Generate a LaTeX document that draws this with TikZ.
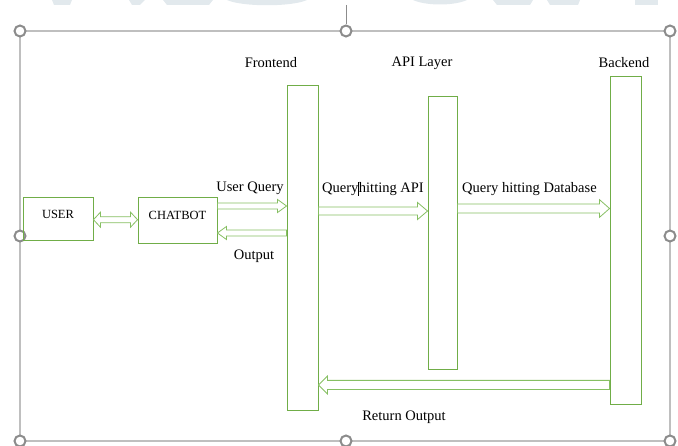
\documentclass[tikz,border=0pt]{standalone}
\usepackage{fontspec}
\setmainfont{Liberation Serif}
\usetikzlibrary{positioning, calc}
\definecolor{boxgreen}{HTML}{70AD47}
\definecolor{arrowgreen}{HTML}{86BF62}
\definecolor{framegray}{HTML}{BFBFBF}
\definecolor{handlegray}{HTML}{8C8C8C}
\definecolor{markblue}{HTML}{E2E9ED}
\tikzset{
	flowshaft/.store in=\flowshaft, flowshaft=3pt,
	flowhead/.store in=\flowhead, flowhead=7pt,
	flowlen/.store in=\flowlen, flowlen=9pt,
	box/.style={
		draw=boxgreen,
		line width=0.9pt,
		inner sep=0pt,
		text depth=9pt,
		font=\fontsize{12.5}{14}\selectfont
	},
	bar/.style={
		draw=boxgreen,
		line width=0.9pt,
		inner sep=0pt
	},
	% hollow block arrow, drawn from start to target
	flow/.style={
		draw=arrowgreen,
		fill=white,
		line width=0.8pt,
		line join=miter,
		to path={
			let \p1=(\tikztostart), \p2=(\tikztotarget), \n1={ifthenelse(\x2>\x1,1,-1)} in
			(\x1,\y1+\flowshaft) -- (\x2-\n1*\flowlen,\y1+\flowshaft) -- (\x2-\n1*\flowlen,\y1+\flowhead)
			-- (\x2,\y1) -- (\x2-\n1*\flowlen,\y1-\flowhead) -- (\x2-\n1*\flowlen,\y1-\flowshaft)
			-- (\x1,\y1-\flowshaft) -- cycle
		}
	},
	% hollow block arrow with a head at both ends
	dualflow/.style={
		draw=arrowgreen,
		fill=white,
		line width=0.8pt,
		line join=miter,
		to path={
			let \p1=(\tikztostart), \p2=(\tikztotarget) in
			(\x1,\y1) -- (\x1+\flowlen,\y1+\flowhead) -- (\x1+\flowlen,\y1+\flowshaft)
			-- (\x2-\flowlen,\y1+\flowshaft) -- (\x2-\flowlen,\y1+\flowhead) -- (\x2,\y1)
			-- (\x2-\flowlen,\y1-\flowhead) -- (\x2-\flowlen,\y1-\flowshaft)
			-- (\x1+\flowlen,\y1-\flowshaft) -- (\x1+\flowlen,\y1-\flowhead) -- cycle
		}
	},
	caption/.style={
		inner sep=0pt,
		font=\fontsize{14.5}{16}\selectfont
	},
	handle/.style={
		circle,
		draw=handlegray,
		fill=white,
		line width=2pt,
		inner sep=0pt,
		minimum size=11pt
	}
}

\begin{document}
\begin{tikzpicture}[x=1pt, y=-1pt]
		\useasboundingbox (0,0) rectangle (678,446);

		% faint watermark at the top edge
		\begin{scope}[markblue]
		\fill (52,0) -- (72,0) -- (70,5) -- (54,5) -- cycle;
		\fill (129,0) -- (145,0) -- (140,5) -- (132,5) -- cycle;
		\fill (163,0) -- (213,0) -- (209,5) -- (167,5) -- cycle;
		\fill (227,0) .. controls (242,7) and (292,7) .. (307,0) -- cycle;
		\fill (413,0) .. controls (426,6) and (454,6) .. (467,0) -- cycle;
		\fill (493,0) -- (533,0) -- (530,5) -- (497,5) -- cycle;
		\fill (547,0) -- (580,0) -- (578,5) -- (550,5) -- cycle;
		\fill (635,0) rectangle (658,5);
		\end{scope}

		% selection frame
		\draw[framegray, line width=1.3pt] (20,31) rectangle (670,441);
		\foreach \hx/\hy [count=\i] in {20/31, 346/31, 670/31, 20/236, 670/236, 20/441, 346/441, 670/441} {
			\node[handle] (handle\i) at (\hx,\hy) {};
		}
		\draw[handlegray, line width=0.6pt] (346,5) -- (handle2.north);

		% actors
		\node[box, minimum width=70pt, minimum height=43pt] (user) at (58,218.5) {USER};
		\node[box, minimum width=79pt, minimum height=46pt] (chatbot) at (177.5,220) {CHATBOT};

		% layers
		\node[bar, minimum width=31pt, minimum height=325pt] (frontend) at (302.5,247.5) {};
		\node[bar, minimum width=29pt, minimum height=273pt] (api) at (442.5,232.5) {};
		\node[bar, minimum width=31pt, minimum height=328pt] (backend) at (625.5,240) {};

		% layer descriptions
		\node[caption] (frontenddsc) at (271,63) {Frontend};
		\node[caption] (apidsc) at (422,63) {API Layer};
		\node[caption] (backenddsc) at (624,63) {Backend};

		% arrow heights
		\coordinate (usery) at (0,219.7);
		\coordinate (queryy) at (0,206);
		\coordinate (outy) at (0,233);
		\coordinate (apiy) at (0,211);
		\coordinate (dby) at (0,208.5);
		\coordinate (rety) at (0,385);

		% connections
		\draw[dualflow, flowshaft=3pt, flowhead=7.5pt, flowlen=7pt] (user.east |- usery) to (chatbot.west |- usery);
		\draw[flow, flowshaft=3pt, flowhead=6.5pt, flowlen=9pt] (chatbot.east |- queryy) to (frontend.west |- queryy);
		\draw[flow, flowshaft=3pt, flowhead=6.5pt, flowlen=9pt] (frontend.west |- outy) to (chatbot.east |- outy);
		\draw[flow, flowshaft=4pt, flowhead=8.5pt, flowlen=10pt] (frontend.east |- apiy) to (api.west |- apiy);
		\draw[flow, flowshaft=4.5pt, flowhead=8.8pt, flowlen=10pt] (api.east |- dby) to (backend.west |- dby);
		\draw[flow, flowshaft=4.6pt, flowhead=9pt, flowlen=9pt] (backend.west |- rety) to (frontend.east |- rety);

		% connection labels
		\node[caption] (querydsc) at (250,188) {User Query};
		\node[caption] (outputdsc) at (254,256) {Output};
		\node[caption, anchor=west] (apicall) at (322,189) {Query\rule[-3pt]{0.5pt}{14pt}hitting API};
		\node[caption, anchor=west] (dbcall) at (462,189) {Query hitting Database};
		\node[caption] (returndsc) at (404,417) {Return Output};
\end{tikzpicture}
\end{document}
